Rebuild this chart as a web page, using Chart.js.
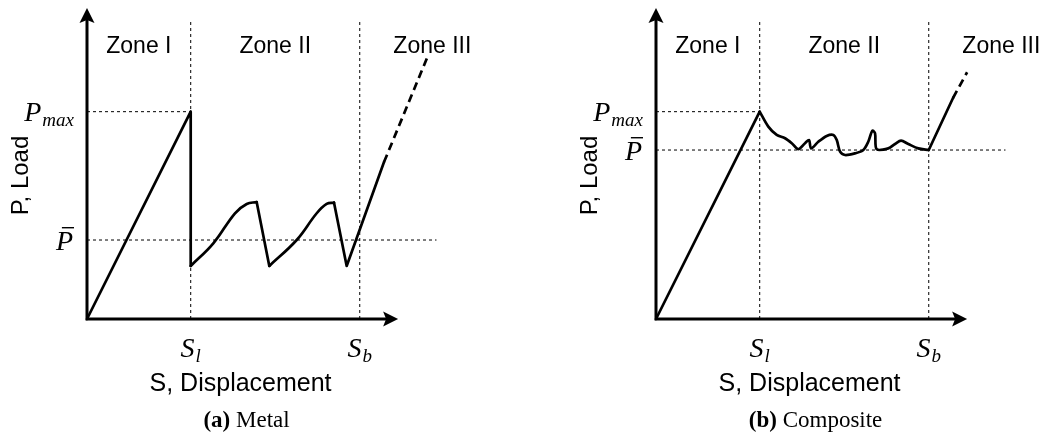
<!DOCTYPE html>
<html>
<head>
<meta charset="utf-8">
<script src="https://cdn.jsdelivr.net/npm/chart.js@4"></script>
<style>
  html, body { margin: 0; padding: 0; background: #fff; }
  #wrap { position: relative; width: 1043px; height: 440px; }
  canvas { position: absolute; top: 0; }
  #metalChart { left: 0; }
  #compChart { left: 521px; }
</style>
</head>
<body>
<div id="wrap">
  <canvas id="metalChart" width="521" height="440"></canvas>
  <canvas id="compChart" width="522" height="440"></canvas>
</div>
<script>
// characteristic displacements and peak load (normalised units)
const sLimit = 1.0;
const sBottom = 2.63;
const pMax = 1.0;
const zoneNames = ['Zone I', 'Zone II', 'Zone III'];

// metal: elastic ramp and sudden drop
const metalRampS = [0, 1.0, 1.0];
const metalRampP = [0, 1.0, 0.256];
// metal: two progressive folds (smooth build-up, then collapse)
const metalFold1S = [1.0, 1.218, 1.427, 1.54, 1.636];
const metalFold1P = [0.256, 0.365, 0.51, 0.555, 0.564];
const metalDrop1S = [1.636, 1.758];
const metalDrop1P = [0.564, 0.256];
const metalFold2S = [1.758, 2.022, 2.215, 2.311, 2.382];
const metalFold2P = [0.256, 0.381, 0.51, 0.555, 0.561];
const metalDrop2S = [2.382, 2.504, 2.864];
const metalDrop2P = [0.561, 0.256, 0.757];
const metalTailS = [2.864, 3.279];
const metalTailP = [0.757, 1.259];
const metalMean = 0.381;

// composite: ramp to peak, crushing plateau, then compaction
const compRampS = [0, 1.0];
const compRampP = [0, 1.0];
const compCrushS = [1.0, 1.083, 1.164, 1.244, 1.309, 1.372, 1.437, 1.476, 1.495, 1.565, 1.646, 1.71, 1.743, 1.775, 1.823, 1.919, 1.999, 2.047, 2.086, 2.112, 2.128, 2.24, 2.305, 2.363, 2.433, 2.529, 2.63];
const compCrushP = [1.0, 0.928, 0.888, 0.872, 0.848, 0.819, 0.848, 0.863, 0.823, 0.855, 0.883, 0.888, 0.863, 0.807, 0.791, 0.799, 0.815, 0.855, 0.908, 0.896, 0.819, 0.823, 0.844, 0.86, 0.844, 0.823, 0.815];
const compRiseS = [2.63, 2.864];
const compRiseP = [0.815, 1.066];
const compTailS = [2.864, 3.0];
const compTailP = [1.066, 1.19];
const compMean = 0.815;

const X_END = 3.0;   // end of the displacement arrow
const X_MAX = 3.4;
const Y_MAX = 1.5;

const pts = (xs, ys) => xs.map((x, i) => ({ x: x, y: ys[i] }));

function curve(xs, ys, extra) {
  return Object.assign({
    data: pts(xs, ys), borderColor: '#000', borderWidth: 2.7,
    tension: 0, clip: false, borderCapStyle: 'round', borderJoinStyle: 'round'
  }, extra || {});
}

function guide(xs, ys) {
  return {
    data: pts(xs, ys), borderColor: '#000', borderWidth: 1,
    borderDash: [3, 3], tension: 0, clip: false
  };
}

function guides(mean) {
  return [
    guide([0, sLimit], [pMax, pMax]),
    guide([0, 3.37], [mean, mean]),
    guide([sLimit, sLimit], [0, 1.44]),
    guide([sBottom, sBottom], [0, 1.44])
  ];
}

function arrowHead(ctx, x, y, dir) {
  // stealth-style head pointing up ('up') or right ('right')
  ctx.save();
  ctx.translate(x, y);
  if (dir === 'right') ctx.rotate(Math.PI / 2);
  ctx.beginPath();
  ctx.moveTo(0, 0);
  ctx.lineTo(7.5, 15);
  ctx.lineTo(0, 12);
  ctx.lineTo(-7.5, 15);
  ctx.closePath();
  ctx.fill();
  ctx.restore();
}

function mathLabel(ctx, x, y, main, sub, bar, align) {
  const big = 'italic 28px "Liberation Serif"';
  const small = 'italic 19px "Liberation Serif"';
  ctx.font = big;
  const wMain = ctx.measureText(main).width;
  ctx.font = small;
  const wSub = sub ? ctx.measureText(sub).width + 1 : 0;
  const w = wMain + wSub;
  const x0 = align === 'right' ? x - w : x - w / 2;
  ctx.textAlign = 'left';
  ctx.textBaseline = 'alphabetic';
  ctx.font = big;
  ctx.fillText(main, x0, y);
  if (bar) ctx.fillRect(x0 + 6, y - 23, wMain - 5, 1.4);
  if (sub) {
    ctx.font = small;
    ctx.fillText(sub, x0 + wMain + 1, y + 5);
  }
}

const figurePlugin = {
  id: 'figure',
  afterDatasetsDraw(chart, args, opts) {
    const ctx = chart.ctx;
    const xs = chart.scales.x, ys = chart.scales.y;
    const x0 = xs.getPixelForValue(0), y0 = ys.getPixelForValue(0);
    const xEnd = xs.getPixelForValue(X_END), yTop = ys.getPixelForValue(Y_MAX);
    ctx.save();
    ctx.fillStyle = '#000';
    ctx.strokeStyle = '#000';
    ctx.lineWidth = 3;
    ctx.beginPath();
    ctx.moveTo(x0, yTop + 10);
    ctx.lineTo(x0, y0);
    ctx.lineTo(xEnd - 10, y0);
    ctx.stroke();
    arrowHead(ctx, x0, yTop, 'up');
    arrowHead(ctx, xEnd, y0, 'right');

    // zone names
    ctx.font = '23px "Liberation Sans"';
    ctx.textAlign = 'center';
    ctx.textBaseline = 'middle';
    const zy = ys.getPixelForValue(1.312);
    const zx = [sLimit / 2, (sLimit + sBottom) / 2, sBottom + 0.7];
    zoneNames.forEach((z, i) => ctx.fillText(z, xs.getPixelForValue(zx[i]), zy));

    // axis titles
    ctx.font = '25px "Liberation Sans"';
    const midX = (x0 + xEnd) / 2;
    ctx.fillText('S, Displacement', midX - 2, 384);
    ctx.font = '24px "Liberation Sans"';
    ctx.save();
    ctx.translate(x0 - 66, (y0 + yTop) / 2 + 12);
    ctx.rotate(-Math.PI / 2);
    ctx.fillText('P, Load', 0, 0);
    ctx.restore();

    // tick symbols
    mathLabel(ctx, x0 - 13, ys.getPixelForValue(pMax) + 9, 'P', 'max', false, 'right');
    mathLabel(ctx, x0 - 14, ys.getPixelForValue(opts.mean) + 10, 'P', '', true, 'right');
    mathLabel(ctx, xs.getPixelForValue(sLimit), y0 + 38, 'S', 'l', false, 'center');
    mathLabel(ctx, xs.getPixelForValue(sBottom), y0 + 38, 'S', 'b', false, 'center');

    // sub-figure caption
    ctx.textAlign = 'left';
    ctx.textBaseline = 'middle';
    ctx.font = 'bold 23px "Liberation Serif"';
    const tag = '(' + opts.tag + ')';
    const wTag = ctx.measureText(tag).width;
    ctx.font = '23px "Liberation Serif"';
    const wName = ctx.measureText(' ' + opts.name).width;
    const cx = midX + 4 - (wTag + wName) / 2;
    ctx.font = 'bold 23px "Liberation Serif"';
    ctx.fillText(tag, cx, 421);
    ctx.font = '23px "Liberation Serif"';
    ctx.fillText(' ' + opts.name, cx + wTag, 421);
    ctx.restore();
  }
};

function makeChart(id, datasets, padding, opts) {
  return new Chart(document.getElementById(id), {
    type: 'line',
    data: { datasets: datasets },
    options: {
      responsive: false,
      animation: false,
      layout: { padding: padding },
      elements: { point: { radius: 0 } },
      scales: {
        x: { type: 'linear', min: 0, max: X_MAX, display: false },
        y: { type: 'linear', min: 0, max: Y_MAX, display: false }
      },
      plugins: {
        legend: { display: false },
        tooltip: { enabled: false },
        figure: opts
      }
    },
    plugins: [figurePlugin]
  });
}

makeChart('metalChart', [
  curve(metalRampS, metalRampP),
  curve(metalFold1S, metalFold1P, { tension: 0.4 }),
  curve(metalDrop1S, metalDrop1P),
  curve(metalFold2S, metalFold2P, { tension: 0.4 }),
  curve(metalDrop2S, metalDrop2P),
  curve(metalTailS, metalTailP, { borderDash: [8, 5], borderCapStyle: 'butt' })
].concat(guides(metalMean)),
  { left: 87, top: 8, right: 81.4, bottom: 121 },
  { mean: metalMean, tag: 'a', name: 'Metal' });

makeChart('compChart', [
  curve(compRampS, compRampP),
  curve(compCrushS, compCrushP, { tension: 0.3 }),
  curve(compRiseS, compRiseP),
  curve(compTailS, compTailP, { borderDash: [8, 5], borderCapStyle: 'butt' })
].concat(guides(compMean)),
  { left: 135, top: 8, right: 34.4, bottom: 121 },
  { mean: compMean, tag: 'b', name: 'Composite' });
</script>
</body>
</html>
